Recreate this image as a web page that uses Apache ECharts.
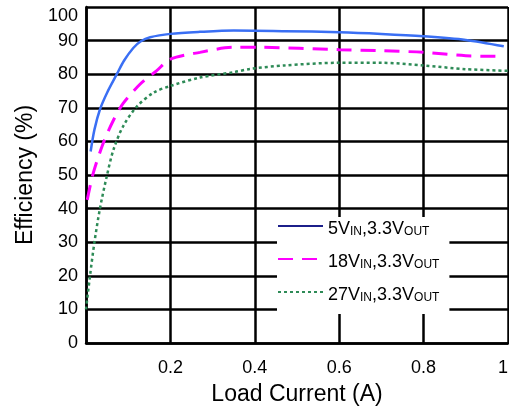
<!DOCTYPE html>
<html><head><meta charset="utf-8">
<script src="https://cdn.jsdelivr.net/npm/echarts@6/dist/echarts.min.js"></script>
<style>html,body{margin:0;padding:0;background:#fff}#c{width:509px;height:414px}</style>
</head><body><div id="c"></div>
<script>
var xTicks = [0, 0.2, 0.4, 0.6, 0.8, 1];
var yTicks = [0, 10, 20, 30, 40, 50, 60, 70, 80, 90, 100];

var load5 = [0.011, 0.02, 0.033, 0.05, 0.073, 0.09, 0.112, 0.13, 0.152, 0.2, 0.27, 0.35, 0.47, 0.6, 0.7, 0.8, 0.9, 0.99];
var eff5  = [57, 63.5, 69.5, 74.5, 80, 84, 87.8, 89.8, 91, 92, 92.6, 93, 92.8, 92.5, 92, 91.3, 90.2, 88.3];

var load18 = [0.003, 0.017, 0.041, 0.065, 0.088, 0.128, 0.167, 0.2, 0.27, 0.35, 0.41, 0.6, 0.7, 0.8, 0.9, 0.99];
var eff18  = [42.6, 50.5, 59.5, 66.3, 71.3, 77, 81, 84.5, 86.5, 88, 88, 87.3, 87, 86.5, 85.5, 85.3];

var load27 = [0, 0.0095, 0.02, 0.033, 0.049, 0.065, 0.088, 0.12, 0.16, 0.2, 0.27, 0.35, 0.39, 0.47, 0.6, 0.7, 0.8, 0.9, 1.0];
var eff27  = [10, 20, 30, 40, 49.5, 57.5, 64.5, 70.3, 74.5, 76.5, 79, 80.6, 81.6, 82.6, 83.4, 83.4, 82.6, 81.5, 81];

var names = ['5V_IN,3.3V_OUT', '18V_IN,3.3V_OUT', '27V_IN,3.3V_OUT'];

function pairs(xs, ys){ return xs.map(function(x,i){ return [x, ys[i]]; }); }

var FONT = 'Liberation Sans, Arial, sans-serif';
var chart = echarts.init(document.getElementById('c'), null, {renderer:'canvas'});
chart.setOption({
  animation: false,
  backgroundColor: '#fff',
  grid: {left: 86, right: 1, top: 7, bottom: 71, outerBoundsMode: 'none', containLabel: false},
  xAxis: {
    type: 'value', min: 0, max: 1, interval: 0.2,
    name: 'Load Current (A)', nameLocation: 'middle', nameGap: 40,
    nameTextStyle: {fontFamily: FONT, fontSize: 23, color: '#000'},
    axisLine: {show: true, lineStyle: {color: '#000', width: 2.5}},
    axisTick: {show: false},
    axisLabel: {fontFamily: FONT, fontSize: 18, color: '#000', margin: 16, alignMaxLabel: 'right',
      formatter: function(v){ return v === 0 ? '' : String(Math.round(v*10)/10); }},
    splitLine: {show: true, lineStyle: {color: '#000', width: 2.5}}
  },
  yAxis: {
    type: 'value', min: 0, max: 100, interval: 10,
    name: 'Efficiency (%)', nameLocation: 'middle', nameGap: 48,
    nameTextStyle: {fontFamily: FONT, fontSize: 23, color: '#000'},
    axisLine: {show: true, lineStyle: {color: '#000', width: 2.5}},
    axisTick: {show: false},
    axisLabel: {fontFamily: FONT, fontSize: 18, color: '#000', margin: 8, verticalAlignMaxLabel: 'top'},
    splitLine: {show: true, lineStyle: {color: '#000', width: 2.5}}
  },
  legend: {
    orient: 'vertical', left: 277, top: 217,
    backgroundColor: '#fff', padding: [3, 10, 10, 0],
    itemWidth: 45, itemHeight: 10, itemGap: 15,
    itemStyle: {opacity: 0},
    data: [
      {name: names[0], lineStyle: {color: '#1c1f8a', width: 2, type: 'solid'}},
      {name: names[1]},
      {name: names[2]}
    ],
    formatter: function(n){
      var p = n.split(',');
      var a = p[0].split('_'), b = p[1].split('_');
      return '{n|' + a[0] + '}{s|' + a[1] + '}{n|,' + b[0] + '}{s|' + b[1] + '}';
    },
    textStyle: {
      fontFamily: FONT, color: '#000',
      rich: {
        n: {fontFamily: FONT, fontSize: 18, color: '#000', lineHeight: 24, verticalAlign: 'bottom'},
        s: {fontFamily: FONT, fontSize: 12, color: '#000', lineHeight: 19, verticalAlign: 'bottom'}
      }
    }
  },
  series: [
    {name: names[0], type: 'line', smooth: 0.3, showSymbol: false, symbol: 'none',
     data: pairs(load5, eff5), lineStyle: {color: '#3a6ff4', width: 2.5}, itemStyle:{color:'#3a6ff4'}, z: 5},
    {name: names[1], type: 'line', smooth: 0.3, showSymbol: false, symbol: 'none',
     data: pairs(load18, eff18), lineStyle: {color: '#ff00ff', width: 3, type: [15, 9]}, itemStyle:{color:'#ff00ff'}, z: 4},
    {name: names[2], type: 'line', smooth: 0.3, showSymbol: false, symbol: 'none',
     data: pairs(load27, eff27), lineStyle: {color: '#2e8b57', width: 2.5, type: [3, 3]}, itemStyle:{color:'#2e8b57'}, z: 3}
  ]
});
</script></body></html>
